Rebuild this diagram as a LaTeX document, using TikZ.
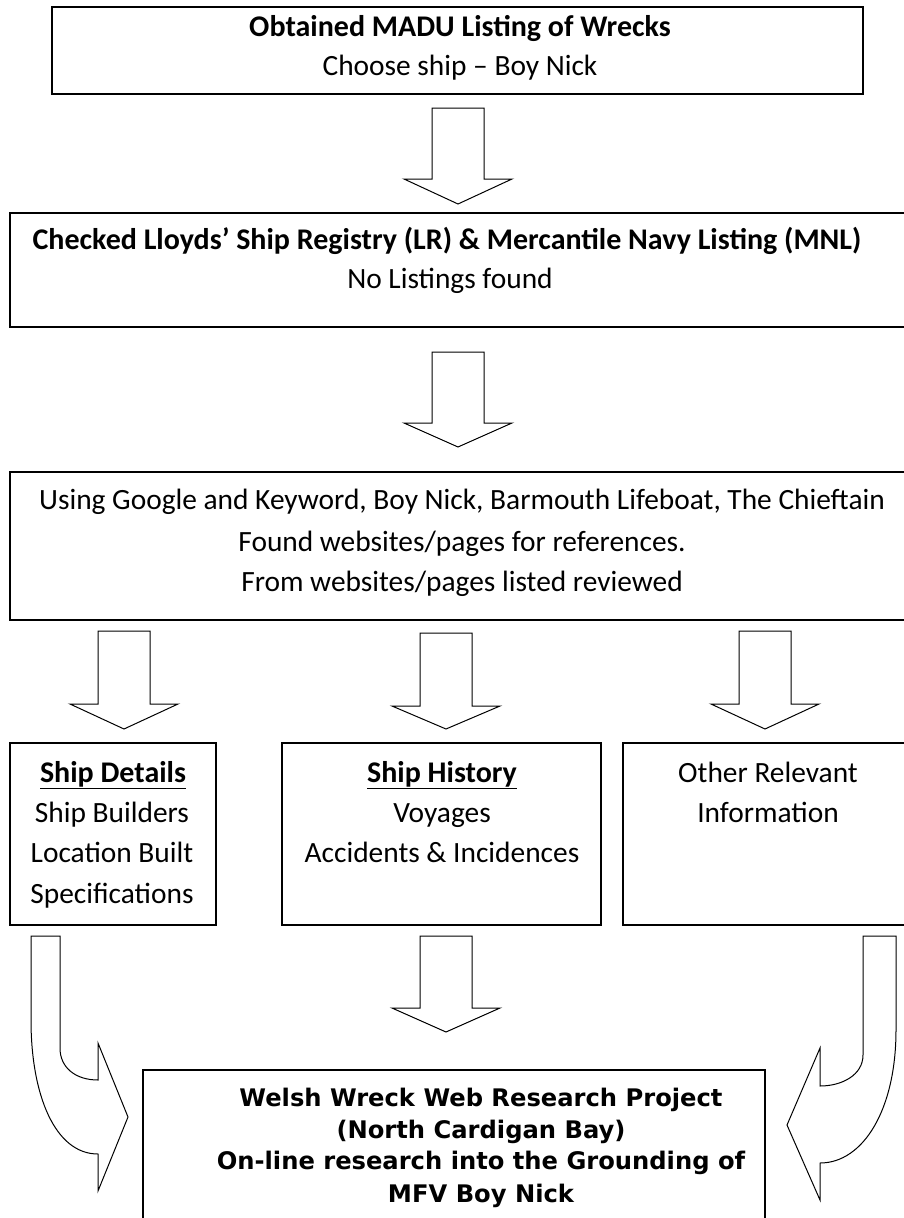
\documentclass[tikz,border=0pt]{standalone}
\usepackage{fontspec}
\setmainfont{Carlito}
\newfontfamily\verdfont{DejaVu Sans}
\tikzset{
  box/.style={draw, line width=1.3pt, rectangle, inner sep=0pt},
  arr/.style={draw, line width=1pt, fill=white, line join=miter},
  txt/.style={inner sep=0pt, anchor=base, font=\fontsize{29.4}{35}\selectfont},
  btxt/.style={inner sep=0pt, anchor=base, font=\fontsize{30}{35}\selectfont\bfseries},
  vtxt/.style={inner sep=0pt, anchor=base, font=\verdfont\fontsize{24.2}{30}\selectfont\bfseries},
}
\newcommand{\blockdown}[5]{%
  \coordinate (#1) at (#2,#3);
  \draw[arr] ({#2-26},#3) -- ({#2+26},#3) -- ({#2+26},#4) -- ({#2+54},#4) -- (#2,#5) -- ({#2-54},#4) -- ({#2-26},#4) -- cycle;}
\begin{document}
\begin{tikzpicture}[x=1pt,y=-1pt]
\useasboundingbox (0,0) rectangle (904,1218);
\fill[white] (0,0) rectangle (904,1218);
\clip (0,0) rectangle (904,1218);

% boxes
\node[box, minimum width=811pt, minimum height=87pt] (b1) at (457.5,50.5) {};
\node[box, minimum width=900pt, minimum height=114pt] (b2) at (460,270) {};
\node[box, minimum width=900pt, minimum height=148pt] (b3) at (460,546) {};
\node[box, minimum width=206pt, minimum height=182pt] (b4) at (113,834) {};
\node[box, minimum width=319pt, minimum height=182pt] (b5) at (441.5,834) {};
\node[box, minimum width=287pt, minimum height=182pt] (b6) at (766.5,834) {};
\node[box, minimum width=622pt, minimum height=160pt] (b7) at (454,1150) {};

% texts
\node[btxt] (t1a) at (460,36) {Obtained MADU Listing of Wrecks};
\node[txt]  (t1b) at (460,75) {Choose ship – Boy Nick};

\node[btxt] (t2a) at (447,249) {Checked Lloyds’ Ship Registry (LR) \& Mercantile Navy Listing (MNL)};
\node[txt]  (t2b) at (450,288) {No Listings found};

\node[txt] (t3a) at (462,509) {Using Google and Keyword, Boy Nick, Barmouth Lifeboat, The Chieftain};
\node[txt] (t3b) at (462,551) {Found websites/pages for references.};
\node[txt] (t3c) at (462,591) {From websites/pages listed reviewed};

\node[btxt] (t4a) at (113,782) {\underline{Ship Details}};
\node[txt]  (t4b) at (112,822) {Ship Builders};
\node[txt]  (t4c) at (112,862) {Location Built};
\node[txt]  (t4d) at (112,903) {Specifications};

\node[btxt] (t5a) at (442,782) {\underline{Ship History}};
\node[txt]  (t5b) at (442,822) {Voyages};
\node[txt]  (t5c) at (442,862) {Accidents \& Incidences};

\node[txt] (t6a) at (768,782) {Other Relevant};
\node[txt] (t6b) at (768,822) {Information};

\node[vtxt] (t7a) at (481,1106) {Welsh Wreck Web Research Project};
\node[vtxt] (t7b) at (481,1138) {(North Cardigan Bay)};
\node[vtxt] (t7c) at (481,1169) {On-line research into the Grounding of};
\node[vtxt] (t7d) at (481,1202) {MFV Boy Nick};

% straight block arrows
\blockdown{a1}{458}{108}{179}{204}
\blockdown{a2}{458}{352}{423}{447}
\blockdown{a3}{124}{631}{704}{729}
\blockdown{a4}{446}{633}{706}{729}
\blockdown{a5}{765}{631}{704}{729}
\blockdown{a6}{446}{936}{1008}{1032}

% curved block arrows
\coordinate (cl) at (31,936);
\draw[arr] (cl) -- (60,936) -- (60,1048)
  .. controls (60,1068) and (76,1080) .. (98,1080)
  -- (98,1043) -- (128,1117) -- (98,1191) -- (98,1154)
  .. controls (55,1154) and (31,1095) .. (31,1020) -- cycle;
\coordinate (cr) at (896,936);
\draw[arr] (cr) -- (863,936) -- (863,1055)
  .. controls (863,1075) and (842,1086) .. (820,1086)
  -- (820,1048) -- (787,1125) -- (820,1200) -- (820,1163)
  .. controls (863,1163) and (896,1110) .. (896,1030) -- cycle;
\end{tikzpicture}
\end{document}
